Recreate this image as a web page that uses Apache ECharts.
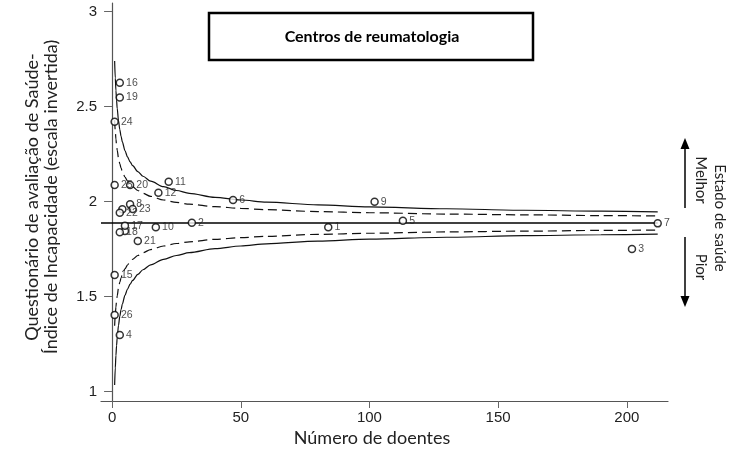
<!DOCTYPE html>
<html>
<head>
<meta charset="utf-8">
<script src="https://cdn.jsdelivr.net/npm/echarts@6/dist/echarts.min.js"></script>
<style>
  html, body { margin: 0; padding: 0; background: #fff; }
  #chart { width: 737px; height: 451px; }
</style>
</head>
<body>
<div id="chart"></div>
<script>
// centros, nº de doentes e HAQ
const centros = ['1','2','3','4','5','6','7','8','9','10','11','12','13','14','15','16','17','18','19','20','21','22','23','24','25','26'];
const doentes = [84, 31, 202, 3, 113, 47, 212, 7, 102, 17, 22, 18, 4, 5, 1, 3, 5, 3, 3, 7, 10, 3, 8, 1, 1, 1];
const haq = [1.865, 1.889, 1.751, 1.298, 1.900, 2.009, 1.886, 1.986, 2.000, 1.865, 2.105, 2.047, 1.960, 1.846, 1.614, 2.626, 1.874, 1.839, 2.549, 2.088, 1.793, 1.942, 1.962, 2.421, 2.088, 1.404];
const semEtiqueta = ['13', '14'];

// limites do funil
const media = 1.888;
const nLimites = [1, 1.25, 1.5, 1.75, 2, 2.5, 3, 3.5, 4, 5, 6, 7, 8, 10, 12, 15, 20, 25, 30, 40, 50, 60, 80, 100, 130, 160, 190, 212];
const sup99 = [2.741, 2.651, 2.585, 2.533, 2.491, 2.427, 2.380, 2.344, 2.315, 2.269, 2.236, 2.210, 2.190, 2.158, 2.134, 2.108, 2.079, 2.059, 2.044, 2.023, 2.009, 1.998, 1.983, 1.973, 1.963, 1.955, 1.950, 1.947];
const inf99 = [1.035, 1.125, 1.191, 1.243, 1.285, 1.349, 1.396, 1.432, 1.461, 1.507, 1.540, 1.566, 1.586, 1.618, 1.642, 1.668, 1.697, 1.717, 1.732, 1.753, 1.767, 1.778, 1.793, 1.803, 1.813, 1.821, 1.826, 1.829];
const sup95 = [2.429, 2.372, 2.330, 2.297, 2.271, 2.230, 2.200, 2.177, 2.159, 2.130, 2.109, 2.092, 2.079, 2.059, 2.044, 2.028, 2.009, 1.996, 1.987, 1.974, 1.965, 1.958, 1.948, 1.942, 1.935, 1.931, 1.927, 1.925];
const inf95 = [1.347, 1.404, 1.446, 1.479, 1.505, 1.546, 1.576, 1.599, 1.617, 1.646, 1.667, 1.684, 1.697, 1.717, 1.732, 1.748, 1.767, 1.780, 1.789, 1.802, 1.811, 1.818, 1.828, 1.834, 1.841, 1.845, 1.849, 1.851];

const xTicks = [0, 50, 100, 150, 200];
const yTicks = [1, 1.5, 2, 2.5, 3];

const pares = (xs, ys) => xs.map((x, i) => [x, ys[i]]);

function linha(nome, ys, tracejado) {
  return {
    name: nome,
    type: 'line',
    data: pares(nLimites, ys),
    smooth: 0.3,
    smoothMonotone: 'x',
    symbol: 'none',
    silent: true,
    lineStyle: { color: '#111', width: 1.2, type: tracejado ? [9, 5] : 'solid' },
    z: 2
  };
}

const pontos = centros.map((c, i) => ({
  name: c,
  value: [doentes[i], haq[i]],
  label: { show: semEtiqueta.indexOf(c) < 0 }
}));

const fonteTexto = 'Lato, "Open Sans", sans-serif';

let myCharts = echarts.init(document.getElementById('chart'));
let option = {
  animation: false,
  grid: { left: 101, right: 69, top: 3, bottom: 50 },
  xAxis: {
    type: 'value',
    min: -4.3,
    max: 216,
    splitLine: { show: false },
    axisLine: { lineStyle: { color: '#555', width: 1.2 } },
    axisTick: { customValues: xTicks, length: 7, lineStyle: { color: '#666' } },
    axisLabel: { customValues: xTicks, color: '#222', fontSize: 15, fontFamily: 'Liberation Sans', margin: 9 }
  },
  yAxis: {
    type: 'value',
    min: 0.951,
    max: 3.046,
    splitLine: { show: false },
    axisLine: { show: true, lineStyle: { color: '#555', width: 1.2 } },
    axisTick: { show: true, customValues: yTicks, length: 8, lineStyle: { color: '#666' } },
    axisLabel: { customValues: yTicks, color: '#222', fontSize: 15, fontFamily: 'Liberation Sans', margin: 4 }
  },
  series: [
    linha('99,8% sup', sup99, false),
    linha('99,8% inf', inf99, false),
    linha('95% sup', sup95, true),
    linha('95% inf', inf95, true),
    {
      name: 'média',
      type: 'line',
      data: [[-4.3, media], [212, media]],
      symbol: 'none',
      silent: true,
      lineStyle: { color: '#000', width: 1.5 },
      z: 2
    },
    {
      name: 'Centros',
      type: 'scatter',
      data: pontos,
      symbol: 'circle',
      symbolSize: 7,
      itemStyle: { color: '#fff', borderColor: '#000', borderWidth: 1.5 },
      label: {
        position: 'right',
        distance: 2,
        formatter: '{b}',
        fontSize: 10.5,
        color: '#222',
        fontFamily: 'Liberation Sans'
      },
      z: 3
    }
  ],
  graphic: [
    {
      type: 'rect',
      shape: { x: 209, y: 13, width: 324, height: 47 },
      style: { fill: '#fff', stroke: '#000', lineWidth: 2.5 },
      z: 10
    },
    {
      type: 'text',
      x: 372, y: 37,
      style: { text: 'Centros de reumatologia', fontSize: 16, fontWeight: 'bold', fontFamily: fonteTexto, fill: '#000', align: 'center', verticalAlign: 'middle' },
      z: 11
    },
    {
      type: 'text',
      x: 42, y: 197,
      rotation: Math.PI / 2,
      style: {
        text: 'Questionário de avaliação de Saúde-\nÍndice de Incapacidade (escala invertida)',
        fontSize: 18, lineHeight: 19, fontFamily: fonteTexto, fill: '#222', align: 'center', verticalAlign: 'middle'
      }
    },
    {
      type: 'text',
      x: 372, y: 438,
      style: { text: 'Número de doentes', fontSize: 18, fontFamily: fonteTexto, fill: '#222', align: 'center', verticalAlign: 'middle' }
    },
    // setas
    { type: 'line', shape: { x1: 685, y1: 146, x2: 685, y2: 208 }, style: { stroke: '#000', lineWidth: 1.5 } },
    { type: 'polygon', shape: { points: [[685, 138], [680.5, 149], [689.5, 149]] }, style: { fill: '#000' } },
    { type: 'line', shape: { x1: 685, y1: 237, x2: 685, y2: 299 }, style: { stroke: '#000', lineWidth: 1.5 } },
    { type: 'polygon', shape: { points: [[685, 307], [680.5, 296], [689.5, 296]] }, style: { fill: '#000' } },
    {
      type: 'text', x: 720, y: 218, rotation: -Math.PI / 2,
      style: { text: 'Estado de saúde', fontSize: 15, fontFamily: fonteTexto, fill: '#222', align: 'center', verticalAlign: 'middle' }
    },
    {
      type: 'text', x: 701, y: 180, rotation: -Math.PI / 2,
      style: { text: 'Melhor', fontSize: 15, fontFamily: fonteTexto, fill: '#222', align: 'center', verticalAlign: 'middle' }
    },
    {
      type: 'text', x: 701, y: 267, rotation: -Math.PI / 2,
      style: { text: 'Pior', fontSize: 15, fontFamily: fonteTexto, fill: '#222', align: 'center', verticalAlign: 'middle' }
    }
  ]
};
myCharts.setOption(option);
</script>
</body>
</html>
